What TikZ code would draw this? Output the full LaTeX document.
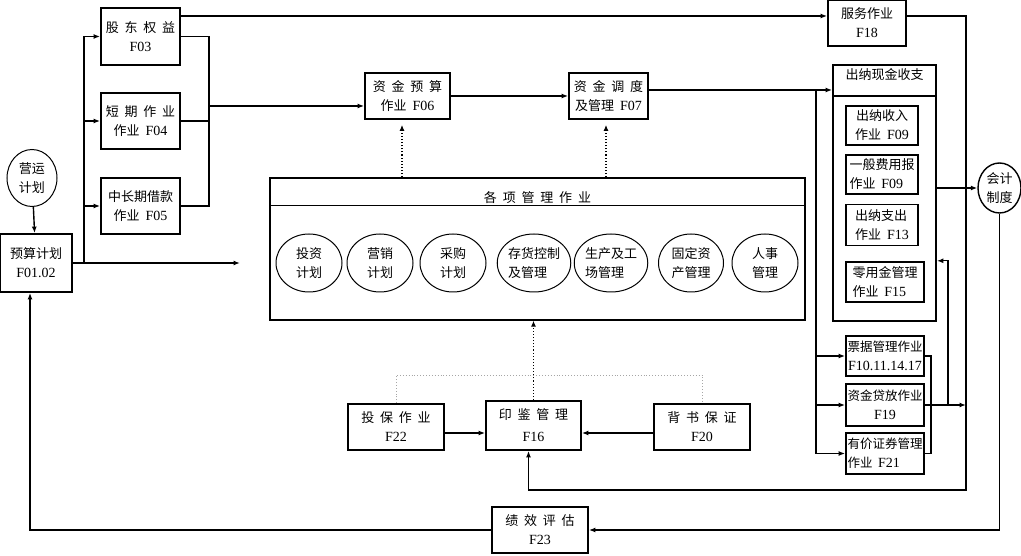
\documentclass[tikz,border=0pt]{standalone}
\usepackage{fontspec}
\setmainfont{Liberation Serif}
\newfontfamily\cjk[WordSpace=2]{Noto Sans CJK SC}
\newcommand{\fc}[1]{{\rmfamily\fontsize{14}{19}\selectfont #1}}
\usetikzlibrary{shapes.geometric,arrows.meta}

\begin{document}
\begin{tikzpicture}[x=1pt,y=-1pt,
	font=\cjk\fontsize{13}{19}\selectfont,
	box/.style={draw,line width=1.8pt,inner sep=0pt,align=center},
	oval/.style={draw,ellipse,line width=1pt,inner sep=0pt,minimum width=66pt,minimum height=58pt,align=center},
	link/.style={line width=1.4pt},
	arr/.style={link,-{Latex[length=6.5pt,width=5pt]}},
	dot/.style={line width=1.1pt,dotted}]
	
	\useasboundingbox (0,0) rectangle (1021,556);
	
	% left column
	\node[oval,minimum width=50pt,minimum height=57pt] (yy) at (32,178) {营运\\计划};
	\node[box,minimum width=72pt,minimum height=58pt] (ys) at (36,263) {预算计划\\\fc{F01.02}};
	\node[box,minimum width=79pt,minimum height=57pt] (f03) at (140.5,36.5) {股 东 权 益\\\fc{F03}};
	\node[box,minimum width=79pt,minimum height=56pt] (f04) at (140.5,121) {短 期 作 业\\作业 \fc{F04}};
	\node[box,minimum width=79pt,minimum height=56pt] (f05) at (140.5,206) {中长期借款\\作业 \fc{F05}};
	
	% top row
	\node[box,minimum width=85pt,minimum height=46pt] (f06) at (407.5,96) {资 金 预 算\\作业 \fc{F06}};
	\node[box,minimum width=79pt,minimum height=46pt] (f07) at (608.5,96) {资 金 调 度\\及管理 \fc{F07}};
	\node[box,minimum width=78pt,minimum height=46pt] (f18) at (867,23) {服务作业\\\fc{F18}};
	
	% management block
	\node[draw,line width=1.4pt,minimum width=535pt,minimum height=142pt] (gx) at (537.5,249) {};
	\draw[line width=1.4pt] ([yshift=-28pt]gx.north west) -- ([yshift=-28pt]gx.north east);
	\node (gxt) at (537.5,198) {各 项 管 理 作 业};
	\node[oval] (e1) at (309,263) {投资\\计划};
	\node[oval] (e2) at (380,263) {营销\\计划};
	\node[oval] (e3) at (453,263) {采购\\计划};
	\node[oval,minimum width=72pt,align=left] (e4) at (534,263) {存货控制\\及管理};
	\node[oval,minimum width=73pt,align=left] (e5) at (611,263) {生产及工\\场管理};
	\node[oval,minimum width=65pt] (e6) at (691,263) {固定资\\产管理};
	\node[oval] (e7) at (765,263) {人事\\管理};
	
	% cashier block
	\node[draw,line width=1.8pt,minimum width=103pt,minimum height=256pt] (cn) at (884.5,193) {};
	\draw[line width=1.8pt] ([yshift=-32pt]cn.north west) -- ([yshift=-32pt]cn.north east);
	\node (cnt) at (884.5,75) {出纳现金收支};
	\node[box,minimum width=72pt,minimum height=39pt] (c09a) at (882,125.5) {出纳收入\\作业 \fc{F09}};
	\node[box,minimum width=72pt,minimum height=39pt,align=left] (c09b) at (882,174.5) {一般费用报\\作业 \fc{F09}};
	\node[box,minimum width=72pt,minimum height=41pt,align=left] (c13) at (882,225) {出纳支出\\作业 \fc{F13}};
	\node[box,line width=2.4pt,minimum width=78pt,minimum height=40pt,align=left] (c15) at (885,282) {零用金管理\\作业 \fc{F15}};
	\node[box,minimum width=78pt,minimum height=40pt,font=\cjk\fontsize{12.5}{19}\selectfont] (pj) at (885,356) {票据管理作业\\\fc{F10.11.14.17}};
	\node[box,minimum width=78pt,minimum height=42pt,font=\cjk\fontsize{12.5}{19}\selectfont] (zj) at (885,405) {资金贷放作业\\\fc{F19}};
	\node[box,minimum width=78pt,minimum height=41pt,align=left,font=\cjk\fontsize{12.5}{19}\selectfont] (yj) at (885,453.5) {有价证券管理\\作业 \fc{F21}};
	\node[oval,minimum width=43pt,minimum height=50pt,line width=1.4pt] (kj) at (999.5,188) {会计\\制度};
	
	% bottom row
	\node[box,minimum width=95pt,minimum height=49pt,font=\cjk\fontsize{13}{22}\selectfont] (f16) at (533.5,425.5) {印 鉴 管 理\\\fc{F16}};
	\node[box,minimum width=96pt,minimum height=46pt] (f22) at (396,427) {投 保 作 业\\\fc{F22}};
	\node[box,minimum width=96pt,minimum height=46pt] (f20) at (702,427) {背 书 保 证\\\fc{F20}};
	\node[box,minimum width=96pt,minimum height=46pt] (f23) at (540,530) {绩 效 评 估\\\fc{F23}};
	
	\coordinate (br) at (84,263);
	\coordinate (ga) at (240,263);
	\coordinate (mj) at (209,106);
	\coordinate (cv) at (816,90);
	\coordinate (rt) at (966,490);
	
	% connectors
	\draw[arr] (yy) -- (ys);
	\draw[arr] (ys.east) -- (ga);
	\draw[arr] (br) |- (f03.west);
	\draw[arr] (br) |- (f04.west);
	\draw[arr] (br) |- (f05.west);
	\draw[link] (f03.east) -| (mj |- f05.east) -- (f05.east);
	\draw[link] (f04.east) -- (mj |- f04.east);
	\draw[arr] (mj) -- (f06.west |- mj);
	\draw[arr] (f03.east |- 0,16) -- (f18.west |- 0,16);
	\draw[arr] (f06) -- (f07);
	\draw[arr] (f07.east |- cv) -- (cn.west |- cv);
	\draw[arr] (cv) |- (pj.west);
	\draw[arr] (cv) |- (zj.west);
	\draw[arr] (cv) |- (yj.west);
	\draw[link] (pj.east) -- ++(6,0) |- (yj.east);
	\draw[arr] (zj.east) -- (zj.east -| rt);
	\draw[arr] (zj.east -| 948,0) |- (cn.east |- c15.north);
	\draw[arr] (cn.east |- kj) -- (kj.west);
	\draw[arr] (f18.east |- 0,16) -| (rt) -| ([xshift=-5pt]f16.south);
	\draw[arr] (kj.south) |- (f23.east);
	\draw[arr] (f23.west) -| ([xshift=-6pt]ys.south);
	\draw[arr] (f22.east |- 0,433) -- (f16.west |- 0,433);
	\draw[arr] (f20.west |- 0,433) -- (f16.east |- 0,433);
	
	% dotted links
	\draw[dot,-{Latex[length=6pt,width=5pt]},shorten >=5pt] (gx.north -| 402,0) -- (f06.south -| 402,0);
	\draw[dot,-{Latex[length=6pt,width=5pt]},shorten >=5pt] (gx.north -| 606,0) -- (f07.south -| 606,0);
	\draw[dot,-{Latex[length=6pt,width=5pt]}] (f16.north) -- (f16.north |- gx.south);
	\draw[dotted,gray!70,line width=0.9pt] (f22.north) -- ++(0,-28) -| (f20.north);
	
\end{tikzpicture}
\end{document}
